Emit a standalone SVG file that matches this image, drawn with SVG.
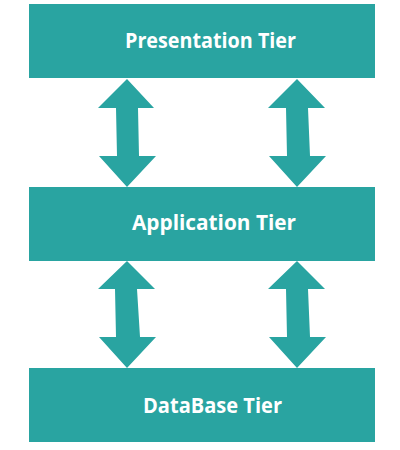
<svg xmlns="http://www.w3.org/2000/svg" width="400" height="450" viewBox="0 0 400 450">
<style>
.box{fill:#29a4a1}
.arr{fill:#29a4a1}
.lbl{font-family:"Open Sans",sans-serif;font-weight:bold;font-size:22px;fill:#ffffff}
</style>
<rect width="400" height="450" fill="#ffffff"/>
<g id="presentation">
<rect class="box" x="29" y="4" width="346" height="74"/>
<text class="lbl" x="125" y="48" textLength="171" lengthAdjust="spacingAndGlyphs">Presentation Tier</text>
</g>
<g id="application">
<rect class="box" x="29" y="187" width="346" height="74"/>
<text class="lbl" x="132" y="230" textLength="164" lengthAdjust="spacingAndGlyphs">Application Tier</text>
</g>
<g id="database">
<rect class="box" x="29" y="368" width="346" height="74"/>
<text class="lbl" x="143" y="413" textLength="139" lengthAdjust="spacingAndGlyphs">DataBase Tier</text>
</g>
<g id="connectors">
<polygon class="arr" points="127,79 154,108 138,108 139,156 156,156 127,187 99,156 117,156 116,108 98,108"/>
<polygon class="arr" points="297,79 325,108 308,108 310,156 326,156 297,187 269,156 287,156 286,108 268,108"/>
<polygon class="arr" points="127,261 155,289 137,289 140,337 156,337 127,368 99,337 116,337 115,289 98,289"/>
<polygon class="arr" points="297,261 325,289 308,289 310,337 326,337 297,368 269,337 287,337 286,289 268,289"/>
</g>
</svg>
